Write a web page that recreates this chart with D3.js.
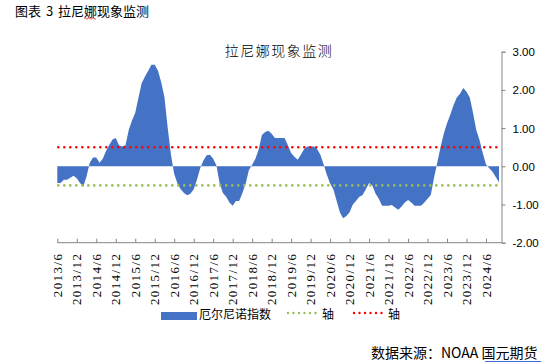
<!DOCTYPE html>
<html>
<head>
<meta charset="utf-8">
<script src="https://cdn.jsdelivr.net/npm/d3@7"></script>
<style>
  body { margin: 0; background: #fff; }
  svg { display: block; }
  .axis path, .axis line { stroke: #868686; }
  .x-labels text { font-family: "Liberation Serif", serif; font-size: 13px; letter-spacing: 1.4px; fill: #000; }
  .y.axis text { font-family: "Liberation Sans", Arial, sans-serif; font-size: 11.5px; fill: #000; }
</style>
</head>
<body>
<div id="chart-area"></div>
<script>
// monthly index values, 2013/6 .. 2024/10
const oniValues = [
  -0.44, -0.44, -0.35, -0.35, -0.30, -0.25, -0.31, -0.44, -0.53, -0.27,
   0.09,  0.23,  0.23,  0.09,  0.20,  0.40,  0.56,  0.70,  0.74,  0.55,
   0.52,  0.55,  0.95,  1.20,  1.40,  1.80,  2.18,  2.35,  2.50,  2.66,
   2.66,  2.50,  2.20,  1.80,  1.00,  0.30, -0.20, -0.45, -0.60, -0.70,
  -0.76, -0.72, -0.60, -0.35, -0.05,  0.15,  0.29,  0.30,  0.20,  0.02,
  -0.45, -0.70, -0.80, -0.95, -1.03, -0.91, -0.91, -0.70, -0.45, -0.10,
   0.04,  0.20,  0.44,  0.82,  0.90,  0.93,  0.85,  0.74,  0.74,  0.74,
   0.74,  0.55,  0.35,  0.25,  0.17,  0.30,  0.45,  0.52,  0.52,  0.52,
   0.45,  0.30,  0.05, -0.22, -0.45, -0.60, -0.90, -1.20, -1.36, -1.30,
  -1.20, -1.00, -0.90, -0.80, -0.75, -0.60, -0.44, -0.50, -0.72, -0.85,
  -1.03, -1.03, -1.03, -1.01, -1.08, -1.14, -1.05, -0.95, -0.88, -0.95,
  -1.03, -1.03, -1.03, -0.95, -0.85, -0.75, -0.30,  0.10,  0.50,  0.85,
   1.13,  1.35,  1.60,  1.80,  1.90,  2.05,  1.95,  1.80,  1.40,  0.95,
   0.69,  0.35,  0.05, -0.05, -0.14, -0.28, -0.42
];
const tickLabels = [
  '2013/6', '2013/12', '2014/6', '2014/12', '2015/6', '2015/12', '2016/6', '2016/12',
  '2017/6', '2017/12', '2018/6', '2018/12', '2019/6', '2019/12', '2020/6', '2020/12',
  '2021/6', '2021/12', '2022/6', '2022/12', '2023/6', '2023/12', '2024/6'
];
const yTicks = [3, 2, 1, 0, -1, -2];
const elNinoLine = 0.5;
const laNinaLine = -0.5;
const seriesNames = ['厄尔尼诺指数', '轴', '轴'];

const drawChart = () => {
  const svg = d3.select('#chart-area').append('svg')
    .attr('width', 548)
    .attr('height', 363);

  const plot = { left: 57.3, right: 501.5, top: 51.7, bottom: 242.7 };

  const x = d3.scaleLinear()
    .domain([0, (tickLabels.length - 1) * 6])
    .range([plot.left, 486]);

  const y = d3.scaleLinear()
    .domain([-2, 3])
    .range([plot.bottom, plot.top]);

  // caption and title
  svg.append('text')
    .attr('x', 15).attr('y', 15.5)
    .style('font-family', '"Noto Sans CJK SC", sans-serif')
    .style('font-size', '13px')
    .style('font-weight', 400)
    .style('word-spacing', '2px')
    .text('图表 3 拉尼娜现象监测');
  svg.append('path')
    .attr('d', 'M84,18.5 q1,-1.5 2,0 t2,0 t2,0 t2,0 t2,0 t2,0')
    .attr('fill', 'none')
    .attr('stroke', '#e02020')
    .attr('stroke-width', 0.8);

  svg.append('text')
    .attr('x', 279).attr('y', 55.5)
    .attr('text-anchor', 'middle')
    .style('font-family', '"Noto Sans CJK SC", sans-serif')
    .style('font-size', '14px')
    .style('font-weight', 300)
    .style('letter-spacing', '1.5px')
    .text('拉尼娜现象监测');

  // area
  const area = d3.area()
    .x((d, i) => x(i))
    .y0(y(0))
    .y1(d => y(d));

  svg.append('path')
    .datum(oniValues)
    .attr('d', area)
    .attr('fill', '#4472C4');

  // threshold dotted lines
  const dotted = (val, color) => {
    svg.append('line')
      .attr('x1', plot.left + 1).attr('x2', plot.right)
      .attr('y1', y(val)).attr('y2', y(val))
      .attr('stroke', color)
      .attr('stroke-width', 2.6)
      .attr('stroke-linecap', 'round')
      .attr('stroke-dasharray', '0 6');
  };
  dotted(elNinoLine, '#FF0000');
  dotted(laNinaLine, '#9BBB59');

  // x axis
  const xAxis = d3.axisBottom(x)
    .tickValues(d3.range(tickLabels.length).map(i => i * 6))
    .tickSizeInner(-4)
    .tickSizeOuter(0)
    .tickFormat('');

  const gx = svg.append('g')
    .attr('class', 'x axis')
    .attr('transform', `translate(0,${plot.bottom})`)
    .call(xAxis);
  gx.select('.domain').attr('d', `M${plot.left},0H${plot.right}`);

  svg.append('g')
    .attr('class', 'x-labels')
    .selectAll('text')
    .data(tickLabels)
    .enter()
    .append('text')
    .attr('transform', (d, i) => `translate(${x(i * 6) + 4.5},${plot.bottom + 10}) rotate(-90)`)
    .attr('text-anchor', 'end')
    .text(d => d);

  // right y axis
  const yAxis = d3.axisRight(y)
    .tickValues(yTicks)
    .tickSize(4)
    .tickPadding(7)
    .tickFormat(d => d.toFixed(2));

  svg.append('g')
    .attr('class', 'y axis')
    .attr('transform', `translate(${plot.right},0)`)
    .call(yAxis)
    .selectAll('text')
    .attr('dy', '0.35em');

  // legend
  const legend = svg.append('g')
    .style('font-family', '"Noto Sans CJK SC", sans-serif')
    .style('font-size', '12px');
  legend.append('rect')
    .attr('x', 161).attr('y', 312).attr('width', 36).attr('height', 8)
    .attr('fill', '#4472C4');
  legend.append('text').attr('x', 199).attr('y', 318.5).text(seriesNames[0]);

  const legendDots = (x1, x2, color) => {
    legend.append('line')
      .attr('x1', x1).attr('x2', x2)
      .attr('y1', 313).attr('y2', 313)
      .attr('stroke', color)
      .attr('stroke-width', 2.4)
      .attr('stroke-linecap', 'round')
      .attr('stroke-dasharray', '0 5.5');
  };
  legendDots(288, 318, '#9BBB59');
  legend.append('text').attr('x', 322).attr('y', 318.5).text(seriesNames[1]);
  legendDots(354, 386, '#FF0000');
  legend.append('text').attr('x', 388).attr('y', 318.5).text(seriesNames[2]);

  // source
  const src = svg.append('text')
    .attr('x', 371).attr('y', 358)
    .style('font-family', '"Noto Sans CJK SC", sans-serif')
    .style('font-size', '14px');
  src.append('tspan').text('数据来源：NOAA ');
  src.append('tspan').text('国元期货');
  svg.append('line')
    .attr('x1', 485).attr('x2', 541)
    .attr('y1', 361.5).attr('y2', 361.5)
    .attr('stroke', '#3a6fd8')
    .attr('stroke-width', 1);
};

window.onload = drawChart;
</script>
</body>
</html>
